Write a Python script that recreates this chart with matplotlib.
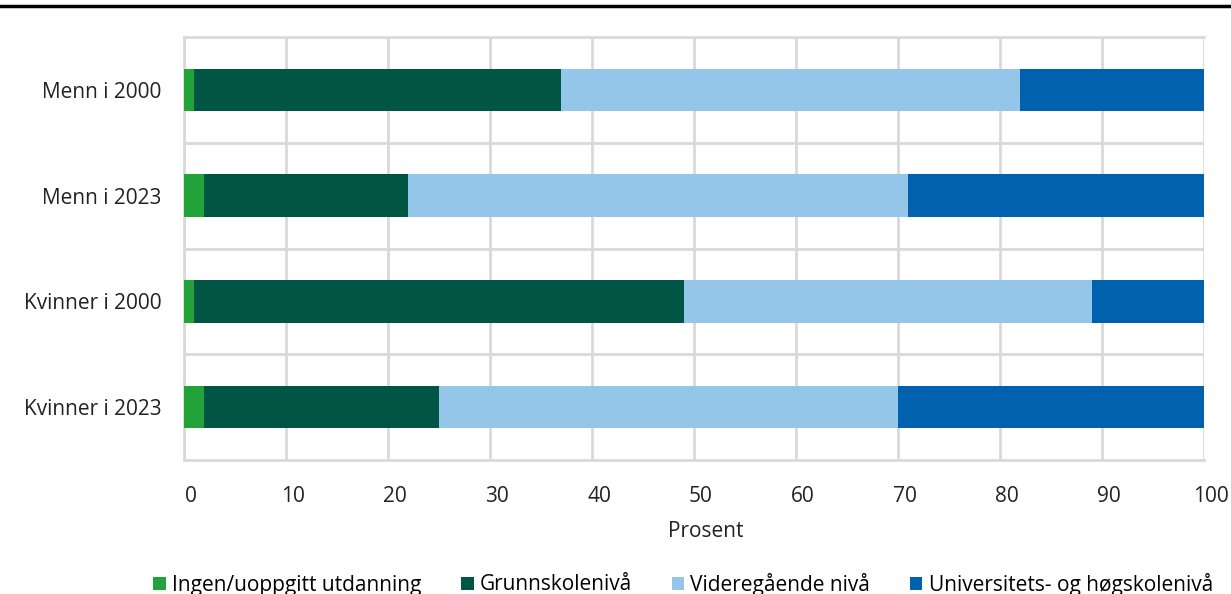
import matplotlib
matplotlib.use("Agg")
import matplotlib.pyplot as plt
import matplotlib.transforms as mtransforms
import numpy as np

categories = ["Menn i 2000", "Menn i 2023", "Kvinner i 2000", "Kvinner i 2023"]
series_names = ["Ingen/uoppgitt utdanning", "Grunnskolenivå", "Videregående nivå", "Universitets- og høgskolenivå"]
ingen = [1, 2, 1, 2]
grunnskole = [36, 20, 48, 23]
videregaende = [45, 49, 40, 45]
universitet = [18, 29, 11, 30]
colors = ["#22a33a", "#005545", "#94c6ea", "#0062ae"]
x_ticks = [0, 10, 20, 30, 40, 50, 60, 70, 80, 90, 100]

plt.rcParams["font.family"] = ["Open Sans", "DejaVu Sans"]
grid_color = "#d9d9d9"
fs = 15

fig = plt.figure(figsize=(12.31, 5.94), dpi=100)
ax = fig.add_axes([184 / 1231, 1 - 460 / 594, 1020 / 1231, 423 / 594])

y = np.arange(len(categories))
left = np.zeros(len(categories))
for name, values, color in zip(series_names, [ingen, grunnskole, videregaende, universitet], colors):
    ax.barh(y, values, left=left, height=0.4, color=color, label=name, zorder=3)
    left += np.array(values)

ax.set_xlim(0, 100)
ax.set_ylim(3.5, -0.5)
ax.set_xticks(x_ticks)
ax.set_yticks(y)
ax.set_yticklabels(categories)
ax.set_yticks([0.5, 1.5, 2.5], minor=True)
ax.tick_params(axis="both", which="both", length=0, labelsize=fs, colors="#222222")
ax.tick_params(axis="x", pad=19)
ax.tick_params(axis="y", pad=16)
ax.grid(True, axis="x", color=grid_color, linewidth=2, zorder=0)
ax.grid(True, axis="y", which="minor", color=grid_color, linewidth=2, zorder=0)
for side in ["left", "bottom", "top"]:
    ax.spines[side].set_color(grid_color)
    ax.spines[side].set_linewidth(2)
ax.spines["right"].set_visible(False)
ax.set_xlabel("Prosent", fontsize=fs, labelpad=10, color="#222222")

# x tick labels and axis title sit a little to the right in the original
shift = mtransforms.ScaledTranslation(7 / 100, 0, fig.dpi_scale_trans)
for label in ax.get_xticklabels():
    label.set_transform(label.get_transform() + shift)
title_shift = mtransforms.ScaledTranslation(12 / 100, 0, fig.dpi_scale_trans)
ax.xaxis.label.set_transform(ax.xaxis.label.get_transform() + title_shift)

# black rule across the top
fig.add_artist(plt.Line2D([0, 1], [1 - 6 / 594, 1 - 6 / 594], color="black", linewidth=2.5))

fig.legend(loc="center", bbox_to_anchor=(0.555, 1 - 584 / 594), ncol=4, frameon=False,
           fontsize=fs, handlelength=0.6, handleheight=0.6, handletextpad=0.3,
           columnspacing=1.9)

fig.savefig("out.png", dpi=100)
